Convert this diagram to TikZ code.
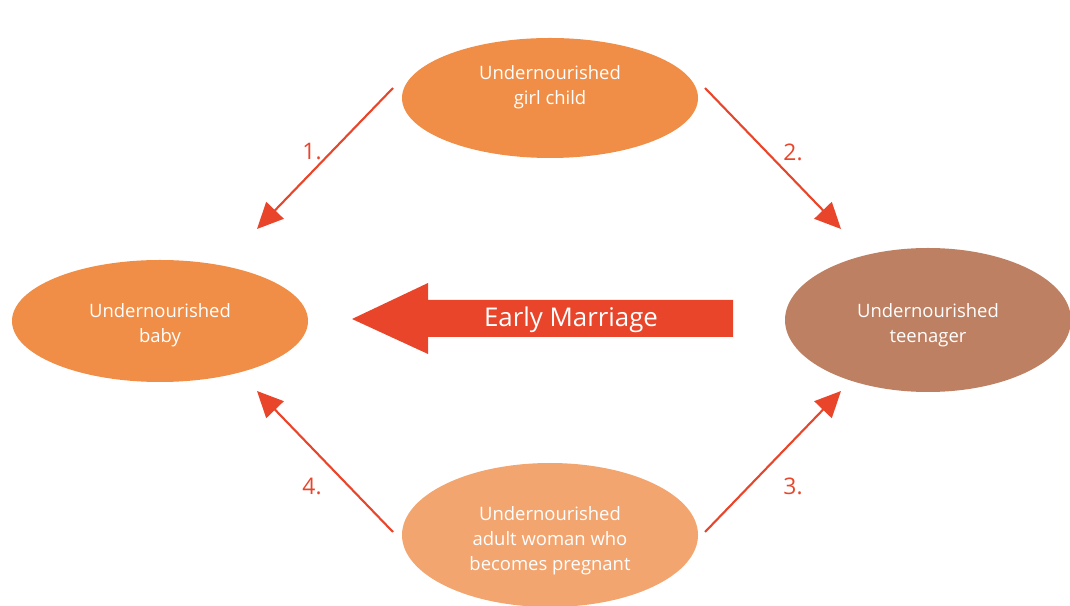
\documentclass[tikz,border=0pt]{standalone}
\usepackage{fontspec}
\setmainfont{Open Sans}
\usepackage{xcolor}
\usetikzlibrary{arrows.meta, shapes.geometric}

\definecolor{nodeorange}{HTML}{F08E47}
\definecolor{nodebrown}{HTML}{BE8062}
\definecolor{nodepeach}{HTML}{F3A570}
\definecolor{arrowred}{HTML}{E8452A}

\begin{document}
\begin{tikzpicture}[
  stagebox/.style={ellipse, fill=#1, draw=none, inner sep=0pt,
    minimum width=5.92cm, minimum height=2.4cm},
  stagetext/.style={text=white, align=center, inner sep=0pt,
    font=\fontsize{10.5}{14.2}\selectfont},
  arr/.style={-{Triangle[length=0.52cm, width=0.48cm]}, line width=1.2pt, draw=arrowred},
  numlabel/.style={text=arrowred, font=\fontsize{13}{15}\selectfont}
]
\useasboundingbox (0,0) rectangle (21.4,12.1);

%% ==== Stages ====
\node[stagebox=nodeorange,
  label={[stagetext, yshift=0.22cm]center:Undernourished\\girl child}] (girl) at (11.0,10.14) {};
\node[stagebox=nodeorange, minimum height=2.44cm,
  label={[stagetext, yshift=-0.08cm]center:Undernourished\\baby}] (baby) at (3.2,5.68) {};
\node[stagebox=nodebrown, minimum width=5.72cm, minimum height=2.88cm,
  label={[stagetext, yshift=-0.1cm]center:Undernourished\\teenager}] (teen) at (18.56,5.70) {};
\node[stagebox=nodepeach, minimum height=2.88cm,
  label={[stagetext, yshift=-0.12cm]center:Undernourished\\adult woman who\\becomes pregnant}] (woman) at (11.0,1.40) {};

%% ==== Arrow ends ====
\coordinate (s1) at (7.86,10.34);  \coordinate (e1) at (5.14,7.52);
\coordinate (s2) at (14.10,10.34); \coordinate (e2) at (16.82,7.52);
\coordinate (s3) at (14.10,1.46);  \coordinate (e3) at (16.82,4.28);
\coordinate (s4) at (7.86,1.46);   \coordinate (e4) at (5.14,4.28);

%% ==== Cycle arrows ====
\foreach \a/\b in {s1/e1, s2/e2, s3/e3, s4/e4}
  \draw[arr] (\a)--(\b);

%% ==== Step numbers ====
\node[numlabel] (n1) at (6.24,9.06) {1.};
\node[numlabel] (n2) at (15.86,9.06) {2.};
\node[numlabel] (n3) at (15.86,2.38) {3.};
\node[numlabel] (n4) at (6.24,2.38) {4.};

%% ==== Early marriage arrow ====
\fill[arrowred] (7.04,5.72) -- (8.56,6.44) -- (8.56,6.10) -- (14.66,6.10)
  -- (14.66,5.36) -- (8.56,5.36) -- (8.56,5.02) -- cycle;
\node[text=white, font=\fontsize{14.7}{17}\selectfont] (marriage) at (11.42,5.70) {Early Marriage};

\end{tikzpicture}
\end{document}
